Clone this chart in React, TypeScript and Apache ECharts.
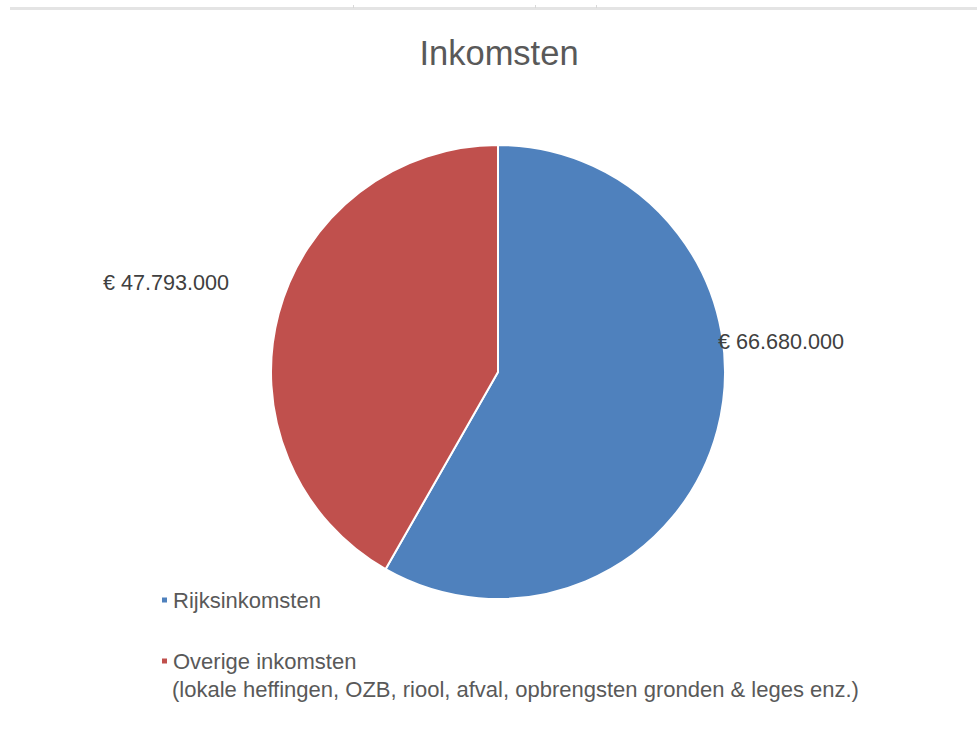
import React, { useEffect, useRef } from "react";
import * as echarts from "echarts";

const TITLE = "Inkomsten";
const categories = ["Rijksinkomsten", "Overige inkomsten"];
const values = [66680000, 47793000];
const colors = ["#4F81BD", "#C0504D"];
const legendNote = "(lokale heffingen, OZB, riool, afval, opbrengsten gronden & leges enz.)";
const labelPositions = [
  { x: 718, y: 341 },
  { x: 103, y: 282 },
];

const fmtEuro = (v: number) =>
  "€ " + String(v).replace(/\B(?=(\d{3})+(?!\d))/g, ".");

const FONT = "'Liberation Sans', Arial, sans-serif";

export default function App() {
  const ref = useRef<HTMLDivElement>(null);
  useEffect(() => {
    if (!ref.current) return;
    const chart = echarts.init(ref.current, undefined, { renderer: "svg" });
    chart.setOption({
      animation: false,
      backgroundColor: "#ffffff",
      textStyle: { fontFamily: FONT },
      title: {
        text: TITLE,
        left: 494,
        textAlign: "center",
        top: 28,
        textStyle: {
          fontFamily: FONT,
          fontSize: 34.5,
          fontWeight: "normal",
          color: "#595959",
          lineHeight: 40,
        },
      },
      legend: {
        orient: "vertical",
        left: 155,
        top: 584,
        itemWidth: 7,
        itemHeight: 7,
        itemGap: 39,
        icon: "rect",
        data: categories,
        textStyle: {
          fontFamily: FONT,
          fontSize: 22,
          color: "#595959",
          lineHeight: 22,
          padding: [0, 0, 0, 0],
        },
      },
      graphic: [
        {
          type: "line",
          shape: { x1: 10, y1: 8.5, x2: 977, y2: 8.5 },
          style: { stroke: "#e4e4e4", lineWidth: 3 },
        },
        {
          type: "line",
          shape: { x1: 353.5, y1: 5, x2: 353.5, y2: 8 },
          style: { stroke: "#d8d8d8", lineWidth: 1 },
        },
        {
          type: "line",
          shape: { x1: 535.5, y1: 5, x2: 535.5, y2: 8 },
          style: { stroke: "#d8d8d8", lineWidth: 1 },
        },
        {
          type: "line",
          shape: { x1: 596.5, y1: 5, x2: 596.5, y2: 8 },
          style: { stroke: "#d8d8d8", lineWidth: 1 },
        },
        {
          type: "text",
          left: 172,
          top: 678,
          style: {
            text: legendNote,
            fontFamily: FONT,
            fontSize: 22,
            fill: "#595959",
          },
        },
      ],
      series: [
        {
          type: "pie",
          center: [498, 372],
          radius: 227,
          startAngle: 90,
          clockwise: true,
          color: colors,
          itemStyle: { borderColor: "#ffffff", borderWidth: 2 },
          emphasis: { disabled: true },
          data: categories.map((name, i) => ({ name, value: values[i] })),
          label: {
            show: true,
            position: "outside",
            formatter: (p: any) => fmtEuro(p.value),
            fontFamily: FONT,
            fontSize: 21.6,
            color: "#404040",
          },
          labelLine: { show: false },
          labelLayout: (p: any) => ({
            x: labelPositions[p.dataIndex].x,
            y: labelPositions[p.dataIndex].y,
            align: "left",
            verticalAlign: "middle",
          }),
        },
      ],
    });
    return () => chart.dispose();
  }, []);
  return (
    <div
      ref={ref}
      style={{ position: "absolute", left: 0, top: 0, width: 977, height: 749 }}
    />
  );
}
